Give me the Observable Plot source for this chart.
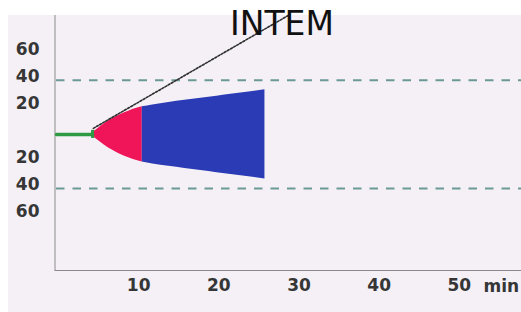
<!DOCTYPE html>
<html><head><meta charset="utf-8">
<script src="https://cdn.jsdelivr.net/npm/d3@7"></script>
<script src="https://cdn.jsdelivr.net/npm/@observablehq/plot@0.6"></script>
<style>
html,body{margin:0;padding:0;background:#fff;}
#wrap{position:relative;width:521px;height:312px;overflow:hidden;}
#panel{position:absolute;left:8px;top:15px;right:0;bottom:0;background:#f4f0f6;}
#chart{position:absolute;left:0;top:0;}
#title{position:absolute;left:230px;top:7px;font:33px/33px "DejaVu Sans",sans-serif;color:#111;white-space:nowrap;}
</style></head>
<body>
<div id="wrap"><div id="panel"></div><div id="chart"></div><div id="title"></div></div>
<script>
const titleText = "INTEM";
const unitLabel = "min";
// clotting phases: time (min) and half-amplitude (mm)
const greenT = [0, 4.5];
const greenA = [0, 0];
const redT = [4.5, 5, 6, 7, 8, 9, 10, 10.7];
const redA = [1.5, 3.5, 8, 11.8, 14.8, 17.2, 19.3, 20.4];
const blueT = [10.7, 12, 14, 16, 18, 20, 22, 24, 26];
const blueA = [20.4, 21.8, 23.6, 25.2, 26.7, 28.3, 29.9, 31.4, 33];
// alpha-angle tangent line
const alphaT = [4.6, 28.9];
const alphaA = [4.5, 88];
const limitLines = [40, -40];
const xTicks = [10, 20, 30, 40, 50];
const yTicks = [60, 40, 20, -20, -40, -60];
const xDomain = [0, 58];
const yDomain = [-100.7, 88];

const green = greenT.map((t, i) => ({t, a: greenA[i]}));
const red = redT.map((t, i) => ({t, a: redA[i]}));
const blue = blueT.map((t, i) => ({t, a: blueA[i]}));
const alpha = alphaT.map((t, i) => ({t, a: alphaA[i]}));

document.getElementById("title").textContent = titleText;

const lab = {fontSize: 17, fontWeight: "bold", fill: "#363636"};
const chart = Plot.plot({
  width: 521, height: 312,
  marginLeft: 56, marginRight: 0, marginTop: 15, marginBottom: 42,
  style: {background: "transparent", fontFamily: "DejaVu Sans, sans-serif"},
  x: {domain: xDomain, label: null},
  y: {domain: yDomain, label: null},
  marks: [
    Plot.ruleX([0], {stroke: "#8a8a8a", strokeWidth: 1, dx: -1.5}),
    Plot.ruleY([yDomain[0]], {x1: -0.2, x2: xDomain[1], stroke: "#8a8a8a", strokeWidth: 1}),
    Plot.ruleY(limitLines, {x1: 0, x2: xDomain[1], stroke: "#6b9995", strokeWidth: 2, strokeDasharray: "8.5,8"}),
    Plot.areaY(red, {x: "t", y1: d => -d.a, y2: "a", fill: "#ef1558", curve: "monotone-x"}),
    Plot.areaY(blue, {x: "t", y1: d => -d.a, y2: "a", fill: "#2b3bb6", curve: "monotone-x"}),
    Plot.line(green, {x: "t", y: "a", stroke: "#2f9a44", strokeWidth: 3.5}),
    Plot.ruleX([greenT[1]], {y1: -3, y2: 3, stroke: "#2f9a44", strokeWidth: 3}),
    Plot.line(alpha, {x: "t", y: "a", stroke: "#2e2e2e", strokeWidth: 1.6, strokeDasharray: "2,1.6"}),
    Plot.axisY(yTicks, {label: null, tickSize: 0, tickPadding: 17, dy: -4, tickFormat: d => Math.abs(d), ...lab}),
    Plot.axisX(xTicks, {label: null, tickSize: 0, tickPadding: 8, dx: 2, ...lab}),
    Plot.text([unitLabel], {frameAnchor: "bottom-right", textAnchor: "start", lineAnchor: "top", dx: -38, dy: 9, ...lab})
  ]
});
document.getElementById("chart").appendChild(chart);
</script>
</body></html>
